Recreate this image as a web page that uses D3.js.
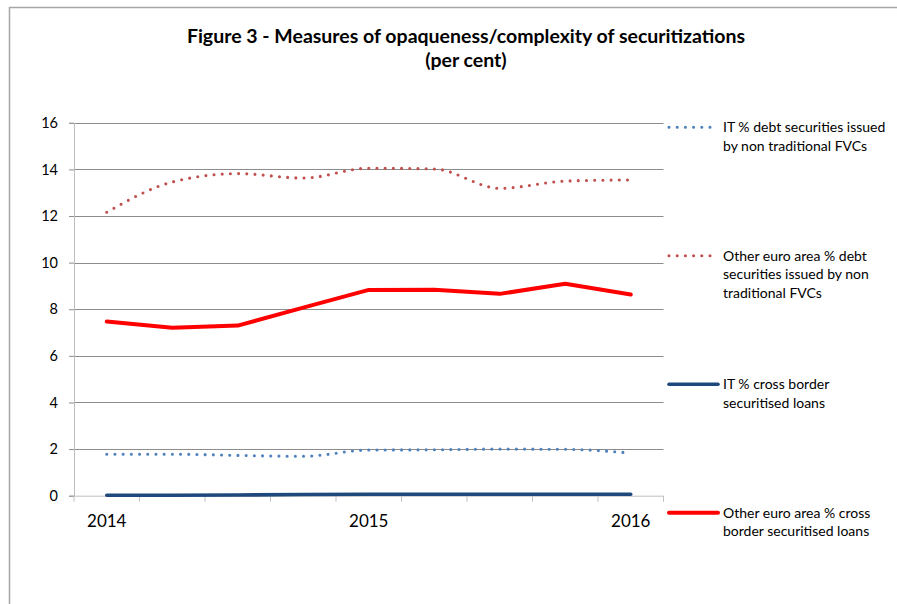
<!DOCTYPE html>
<html><head><meta charset="utf-8">
<script src="https://cdn.jsdelivr.net/npm/d3@7"></script>
<style>body{margin:0;background:#fff;} svg{display:block;} text{font-family:Lato,"Open Sans",sans-serif;fill:#000;}</style>
</head><body>
<svg id="chart" width="897" height="604"></svg>
<script>
const categories = ["2014","","","","2015","","","","2016"];
const itDebt = [1.78,1.78,1.73,1.69,1.96,1.97,2.00,1.99,1.83];
const eaDebt = [12.16,13.46,13.82,13.63,14.05,14.02,13.19,13.50,13.55];
const itLoans = [0.02,0.02,0.03,0.05,0.06,0.06,0.06,0.06,0.06];
const eaLoans = [7.47,7.21,7.30,8.07,8.83,8.84,8.66,9.09,8.63];
const yTicks = [0,2,4,6,8,10,12,14,16];
const seriesNames = [
  ["IT % debt securities issued","by non traditional FVCs"],
  ["Other euro area % debt","securities issued by non","traditional FVCs"],
  ["IT % cross border","securitised loans"],
  ["Other euro area % cross","border securitised loans"]
];

const svg = d3.select("#chart");
// frame
svg.append("path").attr("d","M9.5,604 V7.5 H897").attr("fill","none").attr("stroke","#a6a6a6").attr("stroke-width",1.5);

const x0 = 74, x1 = 663.5, yTop = 122.8, yBot = 495.7;
const idx = d3.range(categories.length);
const xb = d3.scaleBand().domain(idx).range([x0,x1]).paddingInner(0).paddingOuter(0);
const xc = i => xb(i) + xb.bandwidth()/2;
const y = d3.scaleLinear().domain([0,16]).range([yBot,yTop]);

// gridlines
svg.append("g").selectAll("line").data(yTicks.filter(d=>d>0)).join("line")
  .attr("x1",x0).attr("x2",x1).attr("y1",d=>Math.round(y(d))+0.5).attr("y2",d=>Math.round(y(d))+0.5)
  .attr("stroke","#8c8c8c").attr("stroke-width",1);

// y axis
const yAxis = d3.axisLeft(y).tickValues(yTicks).tickSize(5).tickPadding(11).tickFormat(d3.format("d"));
const gy = svg.append("g").attr("transform",`translate(${x0},0)`).call(yAxis);
gy.select(".domain").attr("stroke","#bfbfbf");
gy.selectAll(".tick line").attr("stroke","#8c8c8c");
gy.selectAll(".tick text").style("font-size","14.5px").attr("font-family","Lato").attr("fill","#000");

// x axis
const bounds = idx.map(i=>xb(i)).concat([x1]);
const gx = svg.append("g");
gx.append("line").attr("x1",x0).attr("x2",x1).attr("y1",yBot+0.5).attr("y2",yBot+0.5).attr("stroke","#bfbfbf");
gx.selectAll("line.t").data(bounds).join("line").attr("class","t")
  .attr("x1",d=>d).attr("x2",d=>d).attr("y1",yBot).attr("y2",yBot+6).attr("stroke","#bfbfbf");
gx.selectAll("text").data(idx.filter(i=>categories[i])).join("text")
  .attr("x",i=>xc(i)).attr("y",yBot+31).attr("text-anchor","middle").style("font-size","17px")
  .text(i=>categories[i]);

// lines
const smooth = d3.line().x((d,i)=>xc(i)).y(d=>y(d)).curve(d3.curveMonotoneX);
const straight = d3.line().x((d,i)=>xc(i)).y(d=>y(d));
svg.append("path").attr("d",smooth(itDebt)).attr("fill","none").attr("stroke","#4f81bd")
  .attr("stroke-width",3.1).attr("stroke-linecap","round").attr("stroke-dasharray","0 8.2");
svg.append("path").attr("d",smooth(eaDebt)).attr("fill","none").attr("stroke","#c0504d")
  .attr("stroke-width",3.1).attr("stroke-linecap","round").attr("stroke-dasharray","0 8.2");
svg.append("path").attr("d",straight(itLoans)).attr("fill","none").attr("stroke","#1f497d")
  .attr("stroke-width",3.6).attr("stroke-linecap","round").attr("stroke-linejoin","round");
svg.append("path").attr("d",straight(eaLoans)).attr("fill","none").attr("stroke","#ff0000")
  .attr("stroke-width",4).attr("stroke-linecap","round").attr("stroke-linejoin","round");

// legend
const legY = [127.3, 255.7, 384.3, 512.7];
const legStyles = [
  {c:"#4f81bd",w:3.1,dash:"0 8.2"},{c:"#c0504d",w:3.1,dash:"0 8.2"},
  {c:"#1f497d",w:3.6,dash:null},{c:"#ff0000",w:4,dash:null}];
const lg = svg.append("g");
seriesNames.forEach((lines,k)=>{
  const s = legStyles[k];
  const ln = lg.append("line").attr("x1",669).attr("x2",s.dash?713:718).attr("y1",legY[k]).attr("y2",legY[k])
    .attr("stroke",s.c).attr("stroke-width",s.w).attr("stroke-linecap","round");
  if(s.dash) ln.attr("stroke-dasharray",s.dash);
  const t = lg.append("text").attr("x",723).attr("y",legY[k]+5).style("font-size","14px");
  lines.forEach((l,j)=>t.append("tspan").attr("x",723).attr("dy",j?18.7:0).text(l));
});

// title
const title = svg.append("text").attr("x",466).attr("y",43).attr("text-anchor","middle")
  .style("font-size","19.5px").style("font-weight","bold");
title.append("tspan").attr("x",466).text("Figure 3 - Measures of opaqueness/complexity of securitizations");
title.append("tspan").attr("x",466).attr("dy",24).text("(per cent)");
</script>
</body></html>
